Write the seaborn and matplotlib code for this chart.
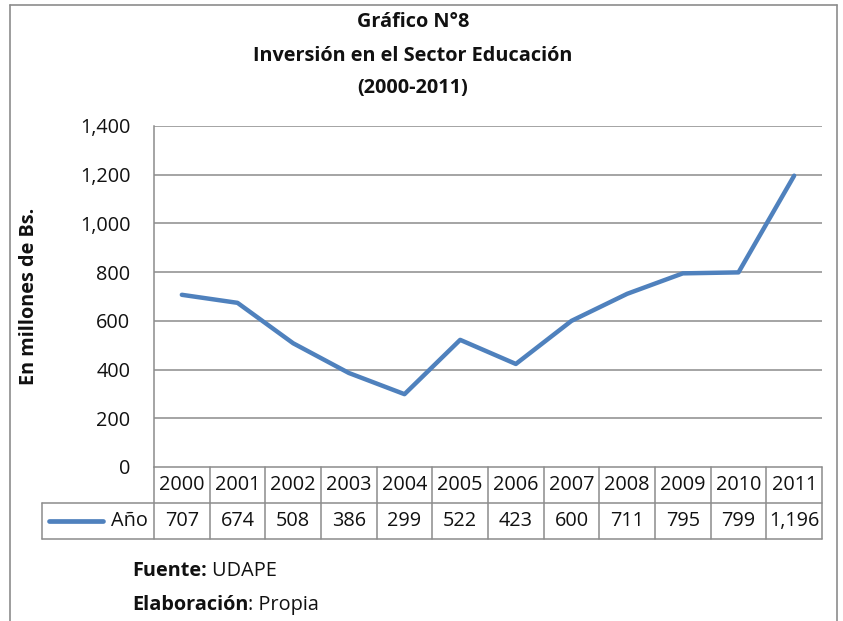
import numpy as np
import pandas as pd
import matplotlib.pyplot as plt
import seaborn as sns
from matplotlib.lines import Line2D

# data
years = ["2000", "2001", "2002", "2003", "2004", "2005",
         "2006", "2007", "2008", "2009", "2010", "2011"]
values = [707, 674, 508, 386, 299, 522, 423, 600, 711, 795, 799, 1196]
value_labels = ["707", "674", "508", "386", "299", "522",
                "423", "600", "711", "795", "799", "1,196"]
y_ticks = [0, 200, 400, 600, 800, 1000, 1200, 1400]
y_tick_labels = ["0", "200", "400", "600", "800", "1,000", "1,200", "1,400"]
series_name = "Año"

sns.set_style("white")
plt.rcParams['font.family'] = ['Open Sans', 'DejaVu Sans']

line_color = "#4F81BD"
grid_color = "#8C8C8C"
txt_color = "#111111"
fs = 14.3

fig = plt.figure(figsize=(8.43, 6.21), dpi=100)
W, H = 843, 621

# outer chart border
fig.add_artist(Line2D([10 / W, 10 / W], [0, 1 - 5 / H], color=grid_color, lw=1.2))
fig.add_artist(Line2D([10 / W, 837 / W], [1 - 5 / H, 1 - 5 / H], color=grid_color, lw=1.2))
fig.add_artist(Line2D([837 / W, 837 / W], [0, 1 - 5 / H], color=grid_color, lw=1.2))

ax = fig.add_axes([154 / W, 1 - 467 / H, (822 - 154) / W, (467 - 126) / H])

df = pd.DataFrame({"x": np.arange(len(years)), "value": values})
sns.lineplot(data=df, x="x", y="value", ax=ax, color=line_color, lw=3.2,
             solid_capstyle="round", solid_joinstyle="round")

ax.set_xlim(-0.5, len(years) - 0.5)
ax.set_ylim(0, 1400)
ax.set_yticks(y_ticks)
ax.set_yticklabels(y_tick_labels, fontsize=fs, color=txt_color)
ax.tick_params(axis="y", length=0, pad=17)
ax.set_xticks([])
ax.set_xlabel("")
ax.set_ylabel("En millones de Bs.", fontsize=fs, fontweight="bold", color=txt_color)
ax.yaxis.set_label_coords(-0.172, 0.5)

for y in y_ticks[1:]:
    ax.axhline(y, color=grid_color, lw=1.1, zorder=0)
for s in ["top", "right", "bottom"]:
    ax.spines[s].set_visible(False)
ax.spines["left"].set_color(grid_color)
ax.spines["left"].set_linewidth(1.1)

# data table under the axis
tr = ax.get_xaxis_transform()
row_h = 36 / (467 - 126)
n = len(years)
col_w = (822 - 154) / n
left_x = -0.5 - (154 - 42) / col_w
kw = dict(transform=tr, clip_on=False, color=grid_color, lw=1.1)
ax.plot([-0.5, n - 0.5], [0, 0], **kw)
ax.plot([left_x, n - 0.5], [-row_h, -row_h], **kw)
ax.plot([left_x, n - 0.5], [-2 * row_h, -2 * row_h], **kw)
ax.plot([left_x, left_x], [-row_h, -2 * row_h], **kw)
for i in range(n + 1):
    ax.plot([i - 0.5, i - 0.5], [0, -2 * row_h], **kw)

for i, (yr, lab) in enumerate(zip(years, value_labels)):
    ax.text(i, -row_h / 2, yr, transform=tr, ha="center", va="center",
            fontsize=fs, color=txt_color)
    ax.text(i, -1.5 * row_h, lab, transform=tr, ha="center", va="center",
            fontsize=fs, color=txt_color)

# legend key inside table
ax.plot([left_x + 7 / col_w, left_x + 61 / col_w], [-1.5 * row_h, -1.5 * row_h],
        transform=tr, clip_on=False, color=line_color, lw=3.4, solid_capstyle="round")
ax.text(-0.5 - 6 / col_w, -1.5 * row_h, series_name, transform=tr, ha="right",
        va="center", fontsize=fs, color=txt_color)

# title
for ypx, line in [(22, "Gráfico N°8"), (56, "Inversión en el Sector Educación"),
                  (88, "(2000-2011)")]:
    fig.text(413 / W, 1 - ypx / H, line, ha="center", va="center",
             fontsize=fs, fontweight="bold", color=txt_color)

# source notes: bold label followed by regular text
renderer = fig.canvas.get_renderer()
for ypx, bold, rest in [(571, "Fuente:", " UDAPE"), (605, "Elaboración", ": Propia")]:
    t = fig.text(132 / W, 1 - ypx / H, bold, ha="left", va="center",
                 fontsize=fs, fontweight="bold", color=txt_color)
    bb = t.get_window_extent(renderer)
    fig.text(bb.x1 / W, 1 - ypx / H, rest, ha="left", va="center",
             fontsize=fs, color=txt_color)

fig.savefig("out.png", dpi=100)
